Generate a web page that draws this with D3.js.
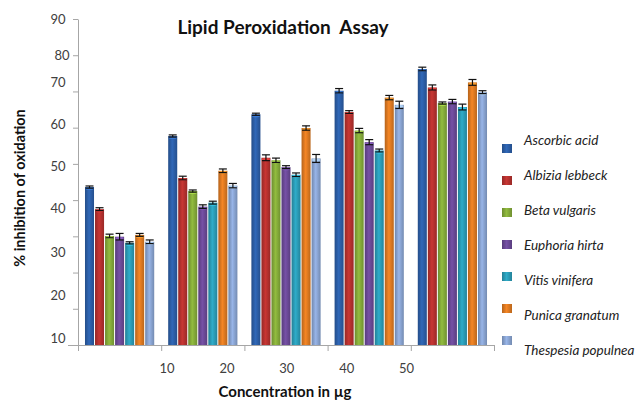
<!DOCTYPE html>
<html>
<head>
<meta charset="utf-8">
<script src="https://cdn.jsdelivr.net/npm/d3@7"></script>
<style>
  body { margin: 0; background: #fff; }
  svg { display: block; font-family: Lato, "Open Sans", sans-serif; }
  .axis path, .axis line { stroke: #a6a6a6; }
</style>
</head>
<body>
<svg id="chart" width="643" height="401"></svg>
<script>
// Concentration groups (x axis) and the series drawn in each group
const groups = ["g1", "g2", "g3", "g4", "g5"];
const xLabels = [10, 20, 30, 40, 50];
const series = [
  "Ascorbic acid",
  "Albizia lebbeck",
  "Beta vulgaris",
  "Euphoria hirta",
  "Vitis vinifera",
  "Punica granatum",
  "Thespesia populnea",
];
const colors = ["#2c5fa8", "#b7312f", "#86ac3a", "#6c4a98", "#2b9db8", "#e07b22", "#8ba6d4"];

// % inhibition per series, one value per group
const ascorbic = [43.6, 57.7, 63.7, 70.2, 76.2];
const albizia = [37.5, 46.1, 51.7, 64.3, 71.1];
const beta = [30.1, 42.5, 51.0, 59.2, 66.8];
const euphoria = [29.9, 38.2, 49.1, 56.0, 67.2];
const vitis = [28.2, 39.3, 47.0, 53.7, 65.7];
const punica = [30.4, 48.1, 59.9, 68.3, 72.5];
const thespesia = [28.5, 44.0, 51.5, 66.3, 69.8];
const values = [ascorbic, albizia, beta, euphoria, vitis, punica, thespesia];

// Standard errors
const errAscorbic = [0.3, 0.3, 0.3, 0.6, 0.5];
const errAlbizia = [0.4, 0.5, 0.8, 0.4, 0.7];
const errBeta = [0.5, 0.3, 0.6, 0.6, 0.3];
const errEuphoria = [0.9, 0.5, 0.4, 0.7, 0.6];
const errVitis = [0.3, 0.4, 0.5, 0.4, 0.8];
const errPunica = [0.4, 0.5, 0.6, 0.6, 0.8];
const errThespesia = [0.5, 0.6, 1.1, 1.0, 0.4];
const errors = [errAscorbic, errAlbizia, errBeta, errEuphoria, errVitis, errPunica, errThespesia];

// y tick values, and where the original put their labels (in value units)
const yTicks = [0, 10, 20, 30, 40, 50, 60, 70, 80, 90];
const yLabels = [10, 20, 30, 40, 50, 60, 70, 80, 90];
const yLabelAt = [1.9, 13.7, 25.6, 37.7, 49.3, 60.8, 72.6, 80, 90];

const svg = d3.select("#chart");
const margin = { top: 19, right: 149, bottom: 56, left: 78 };
const width = +svg.attr("width") - margin.left - margin.right;
const height = +svg.attr("height") - margin.top - margin.bottom;

const x = d3.scaleBand().domain(groups).range([0, width]);
const bw = x.bandwidth();
const xs = d3.scaleBand().domain(series).range([bw * 0.078, bw * 0.922]);
const y = d3.scaleLinear().domain([0, 90]).range([height, 0]);
const yLabelPos = d3.scaleLinear().domain(yLabels).range(yLabelAt.map(y));
const xLabelPos = d3.scaleLinear().domain([10, 50]).range([bw * 1.07, bw * 3.95]);

const g = svg.append("g").attr("transform", `translate(${margin.left},${margin.top})`);

// Cylinder-like shading for each colour
const defs = svg.append("defs");
colors.forEach((c, i) => {
  const grad = defs.append("linearGradient").attr("id", `grad${i}`).attr("x1", 0).attr("x2", 1);
  grad.append("stop").attr("offset", "0%").attr("stop-color", d3.color(c).darker(0.6));
  grad.append("stop").attr("offset", "45%").attr("stop-color", d3.color(c).brighter(0.25));
  grad.append("stop").attr("offset", "100%").attr("stop-color", d3.color(c).darker(0.5));
});

// Axes
g.append("g")
  .attr("class", "y axis")
  .call(d3.axisLeft(y).tickValues(yTicks).tickSize(5).tickSizeOuter(0).tickFormat(""));

const xEdges = d3.scaleLinear().domain([0, groups.length]).range([0, width]);
g.append("g")
  .attr("class", "x axis")
  .attr("transform", `translate(0,${height})`)
  .call(d3.axisBottom(xEdges).ticks(groups.length).tickSize(6).tickSizeOuter(0).tickFormat(""))
  .call((a) => a.select(".domain").attr("d", `M-10,0.5H${width}`));

g.append("g")
  .selectAll("text")
  .data(yLabels)
  .join("text")
  .attr("x", (d) => (d === 80 ? -16 : -20))
  .attr("y", (d) => yLabelPos(d))
  .attr("dy", "0.35em")
  .attr("text-anchor", "middle")
  .attr("font-size", 13)
  .attr("fill", "#404040")
  .text((d) => d);

g.append("g")
  .selectAll("text")
  .data(xLabels)
  .join("text")
  .attr("x", (d) => xLabelPos(d))
  .attr("y", height + 28)
  .attr("text-anchor", "middle")
  .attr("font-size", 13)
  .attr("fill", "#404040")
  .text((d) => d);

// Bars
const rows = [];
groups.forEach((grp, gi) => {
  series.forEach((s, si) => {
    rows.push({ grp, s, si, v: values[si][gi], e: errors[si][gi] });
  });
});

const bars = g.append("g").selectAll("g").data(rows).join("g")
  .attr("transform", (d) => `translate(${x(d.grp) + xs(d.s)},0)`);

bars.append("rect")
  .attr("x", 0.5)
  .attr("width", xs.bandwidth() - 1)
  .attr("y", (d) => y(d.v))
  .attr("height", (d) => height - y(d.v))
  .attr("fill", (d) => `url(#grad${d.si})`);

// Small highlight at the top of each bar
bars.append("ellipse")
  .attr("cx", xs.bandwidth() / 2)
  .attr("cy", (d) => y(d.v) + 1.5)
  .attr("rx", xs.bandwidth() / 2 - 1)
  .attr("ry", 1.5)
  .attr("fill", (d) => d3.color(colors[d.si]).brighter(0.8))
  .attr("opacity", 0.8);

// Error bars
const cap = 4;
const eb = bars.append("g").attr("stroke", "#111").attr("stroke-width", 1.2);
eb.append("line")
  .attr("x1", xs.bandwidth() / 2).attr("x2", xs.bandwidth() / 2)
  .attr("y1", (d) => y(d.v + d.e)).attr("y2", (d) => y(d.v - d.e));
eb.append("line")
  .attr("x1", xs.bandwidth() / 2 - cap).attr("x2", xs.bandwidth() / 2 + cap)
  .attr("y1", (d) => y(d.v + d.e)).attr("y2", (d) => y(d.v + d.e));
eb.append("line")
  .attr("x1", xs.bandwidth() / 2 - cap).attr("x2", xs.bandwidth() / 2 + cap)
  .attr("y1", (d) => y(d.v - d.e)).attr("y2", (d) => y(d.v - d.e));

// Titles
svg.append("text")
  .attr("x", 283)
  .attr("y", 34)
  .attr("text-anchor", "middle")
  .attr("font-size", 19)
  .attr("font-weight", "bold")
  .attr("fill", "#111")
  .style("white-space", "pre")
  .text("Lipid Peroxidation  Assay");

svg.append("text")
  .attr("transform", "translate(25,188) rotate(-90)")
  .attr("text-anchor", "middle")
  .attr("font-size", 14.5)
  .attr("font-weight", "bold")
  .attr("fill", "#111")
  .text("% inhibition of oxidation");

svg.append("text")
  .attr("x", 285)
  .attr("y", 397)
  .attr("text-anchor", "middle")
  .attr("font-size", 15)
  .attr("font-weight", "bold")
  .attr("fill", "#111")
  .text("Concentration in µg");

// Legend: swatches and labels sit on slightly different spacings
const legend = svg.append("g").attr("transform", `translate(${margin.left + width + 8},0)`);
legend.selectAll("rect")
  .data(series)
  .join("rect")
  .attr("x", 0)
  .attr("y", (d, i) => 144 + i * 32)
  .attr("width", 10)
  .attr("height", 9)
  .attr("fill", (d, i) => `url(#grad${i})`);

legend.selectAll("text")
  .data(series)
  .join("text")
  .attr("x", 22)
  .attr("y", (d, i) => 140 + i * 35)
  .attr("dy", "0.35em")
  .attr("font-size", 13.5)
  .attr("font-style", "italic")
  .attr("fill", "#222")
  .text((d) => d);
</script>
</body>
</html>
